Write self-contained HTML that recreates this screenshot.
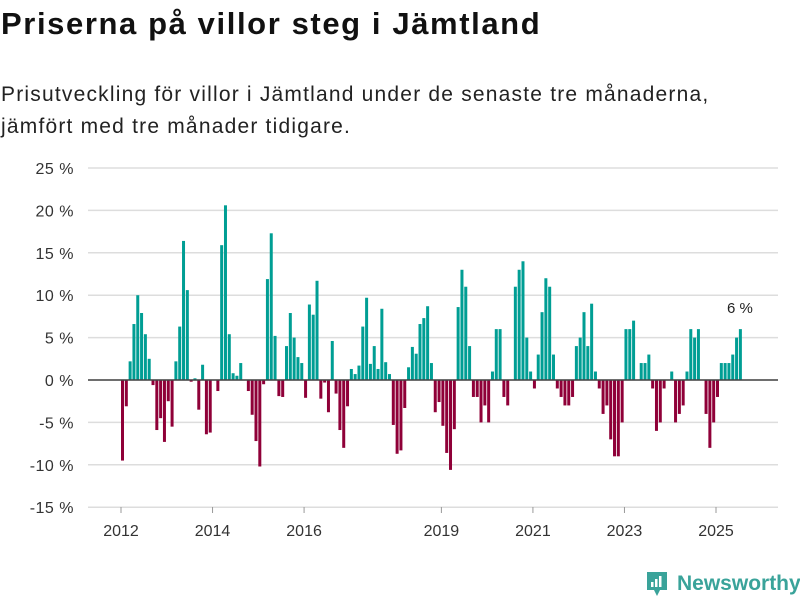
<!DOCTYPE html>
<html><head><meta charset="utf-8">
<style>
html,body{margin:0;padding:0;background:#fff;}
body{width:800px;height:600px;position:relative;overflow:hidden;font-family:"Liberation Sans","DejaVu Sans",sans-serif;color:#111;}
#title{position:absolute;left:1px;top:6px;font-size:31px;font-weight:bold;margin:0;letter-spacing:1.6px;white-space:nowrap;}
#subtitle{position:absolute;left:1px;top:79px;font-size:21px;line-height:32px;margin:0;color:#222;letter-spacing:1.2px;white-space:nowrap;}
svg{position:absolute;left:0;top:0;}
</style></head>
<body>
<h1 id="title">Priserna på villor steg i Jämtland</h1>
<p id="subtitle">Prisutveckling för villor i Jämtland under de senaste tre månaderna,<br>jämfört med tre månader tidigare.</p>
<svg id="chart" width="800" height="600"></svg>
<script>
const values = [-9.5,-3.1,2.2,6.6,10,7.9,5.4,2.5,-0.6,-5.9,-4.5,-7.3,-2.5,-5.5,2.2,6.3,16.4,10.6,-0.2,0.2,-3.5,1.8,-6.4,-6.2,
0,-1.3,15.9,20.6,5.4,0.8,0.5,2,0,-1.3,-4.1,-7.2,-10.2,-0.5,11.9,17.3,5.2,-1.9,-2,4,7.9,5,2.7,2,
-2.1,8.9,7.7,11.7,-2.2,-0.3,-3.8,4.6,-1.6,-5.9,-8,-3.1,1.3,0.7,1.7,6.3,9.7,1.9,4,1.3,8.4,2.1,0.7,-5.3,
-8.7,-8.3,-3.3,1.5,3.9,3.1,6.6,7.3,8.7,2,-3.8,-2.6,-5.4,-8.6,-10.6,-5.8,8.6,13,11,4,-2,-2,-5,-3,
-5,1,6,6,-2,-3,0,11,13,14,5,1,-1,3,8,12,11,3,-1,-2,-3,-3,-2,4,5,8,4,9,1,
-1,-4,-3,-7,-9,-9,-5,6,6,7,0,2,2,3,-1,-6,-5,-1,0,1,-5,-4,-3,1,6,5,6,0,
-4,-8,-5,-2,2,2,2,3,5,6];
const yTicks = [25,20,15,10,5,0,-5,-10,-15];
const yearLabels = [2012,2014,2016,2019,2021,2023,2025];
const startYear = 2012;
const lastLabel = "6 %";

const svg = document.getElementById('chart');
const NS = 'http://www.w3.org/2000/svg';
const x0 = 121, monthW = 595/156;
function xScale(i){ return x0 + i*monthW; }
function yScale(v){ return 380 - v*(212/25); }
function mk(tag, attrs){ const e=document.createElementNS(NS,tag); for(const k in attrs) e.setAttribute(k,attrs[k]); svg.appendChild(e); return e; }

yTicks.forEach(t=>{
  const g = mk('line',{x1:88,x2:778,y1:yScale(t),y2:yScale(t),stroke:'#dddddd','stroke-width':1.5});
  
  
  const tx = mk('text',{x:74,y:yScale(t)+6,'text-anchor':'end','font-size':16,fill:'#333','letter-spacing':0.5});
  tx.textContent = t + ' %';
  
  
});
yearLabels.forEach(y=>{
  const xi = xScale((y-startYear)*12);
  const tl = mk('line',{x1:xi,x2:xi,y1:507,y2:513,stroke:'#999','stroke-width':1});
  
  
  const tx = mk('text',{x:xi,y:536,'text-anchor':'middle','font-size':16,fill:'#333'});
  tx.textContent = y;
  
  
});
values.forEach((v,i)=>{
  const x = xScale(i), y = yScale(Math.max(v,0)), h = Math.abs(yScale(v)-yScale(0));
  const r = mk('rect',{x:x,y:y,width:3,height:h,fill:v>=0?'#009e94':'#8f0038'});
  
  
});
const z = mk('line',{x1:88,x2:778,y1:380,y2:380,stroke:'#444','stroke-width':1.5});


const li = values.length-1;
const lab = mk('text',{x:xScale(li)+1,y:yScale(values[li])-16,'text-anchor':'middle','font-size':15,fill:'#222'});
lab.textContent = lastLabel;


</script>
<div style="position:absolute;left:645px;top:570px;height:28px;display:flex;align-items:center;">
  <svg width="24" height="28" viewBox="0 0 24 28" style="position:static">
    <path d="M2 2 H22 V20 H15 L12 26 L9 20 H2 Z" fill="#3aa39a"/>
    <rect x="6" y="12" width="2.5" height="5" fill="#fff"/>
    <rect x="10" y="9" width="2.5" height="8" fill="#fff"/>
    <rect x="14" y="6" width="2.5" height="11" fill="#fff"/>
  </svg>
  <span style="font-size:21px;font-weight:bold;color:#3aa39a;margin-left:8px;">Newsworthy</span>
</div>
</body></html>
